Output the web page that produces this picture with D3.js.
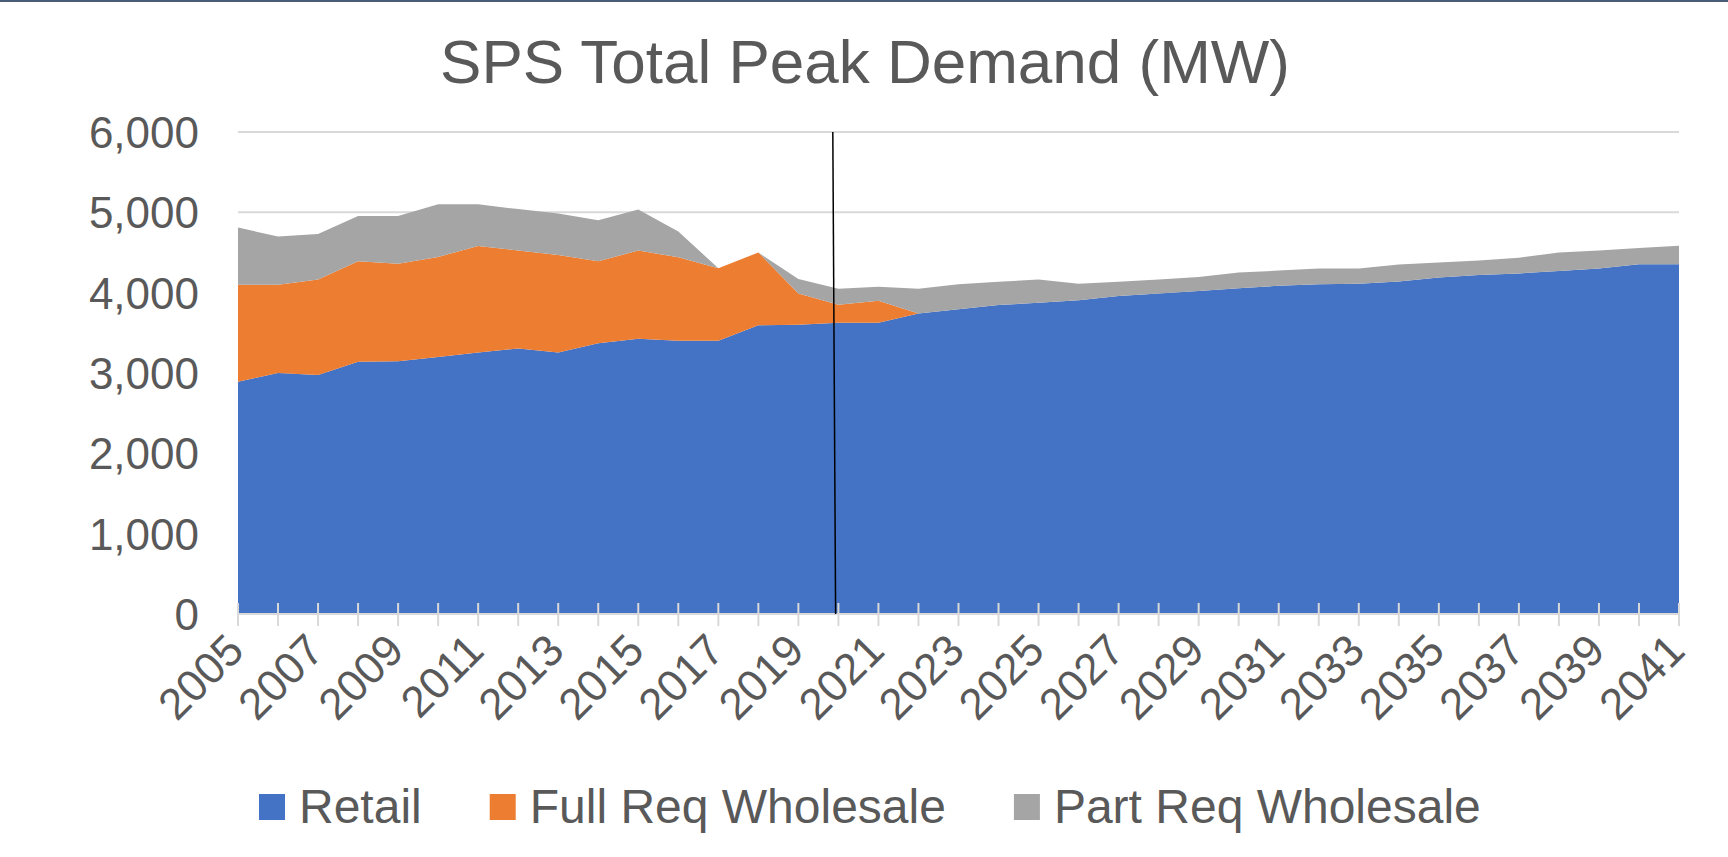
<!DOCTYPE html>
<html>
<head>
<meta charset="utf-8">
<script src="https://cdn.jsdelivr.net/npm/d3@7"></script>
<style>
  body { margin: 0; background: #ffffff; }
  text { font-family: "Liberation Sans", Arial, sans-serif; fill: #595959; }
</style>
</head>
<body>
<div id="chart"></div>
<script>

// years on the x axis
var years = d3.range(2005, 2042);

// peak demand by customer class (MW)
var retail = [2890, 3000, 2975, 3140, 3145, 3200, 3255, 3305, 3255, 3370, 3425, 3400, 3400,
    3595, 3600, 3625, 3625, 3740, 3795, 3845, 3875, 3905, 3960, 3990, 4020, 4055, 4085,
    4105, 4110, 4140, 4190, 4220, 4240, 4270, 4300, 4355, 4355];
var fullReq = [1210, 1100, 1190, 1250, 1215, 1245, 1325, 1220, 1215, 1020, 1100, 1040, 905,
    905, 390, 225, 275, 0, 0, 0, 0, 0, 0, 0, 0, 0, 0,
    0, 0, 0, 0, 0, 0, 0, 0, 0, 0];
var partReq = [710, 600, 565, 565, 595, 655, 520, 515, 515, 510, 510, 320, 0,
    0, 180, 200, 175, 310, 310, 290, 290, 205, 175, 175, 175, 195, 190,
    195, 190, 210, 185, 180, 195, 230, 225, 200, 230];

var seriesNames = ["Retail", "Full Req Wholesale", "Part Req Wholesale"];
var seriesColors = ["#4472c4", "#ed7d31", "#a5a5a5"];
var yTicks = [0, 1000, 2000, 3000, 4000, 5000, 6000];
var xTickYears = d3.range(2005, 2042, 2);

// the black divider between history and forecast (slightly slanted, as drawn)
var dividerTop = 2019.86, dividerBottom = 2019.93;

// set the dimensions and margins of the graph
var margin = { top: 132, right: 49, bottom: 243, left: 238 },
    width = 1728 - margin.left - margin.right,
    height = 857 - margin.top - margin.bottom;

var svg = d3.select("#chart")
    .append("svg")
    .attr("width", 1728)
    .attr("height", 857);

// thin border line on top of the slide
svg.append("rect")
    .attr("x", 0).attr("y", 0)
    .attr("width", 1728).attr("height", 2)
    .attr("fill", "#4a5c78");

// title
svg.append("text")
    .attr("x", 865)
    .attr("y", 83)
    .style("text-anchor", "middle")
    .style("font-size", "62px")
    .text("SPS Total Peak Demand (MW)");

var g = svg.append("g")
    .attr("transform", "translate(" + margin.left + "," + margin.top + ")");

var x = d3.scaleLinear()
    .domain([years[0], years[years.length - 1]])
    .range([0, width]);

var y = d3.scaleLinear()
    .domain([0, 6000])
    .range([height, 0]);

// gridlines
g.append("g")
    .selectAll("line")
    .data(yTicks.filter(function (d) { return d > 0; }))
    .enter()
    .append("line")
    .attr("x1", 0)
    .attr("x2", width)
    .attr("y1", function (d) { return y(d); })
    .attr("y2", function (d) { return y(d); })
    .attr("stroke", "#d9d9d9")
    .attr("stroke-width", 2);

// stack the three series
var table = years.map(function (yr, i) {
    return { year: yr, "Retail": retail[i], "Full Req Wholesale": fullReq[i], "Part Req Wholesale": partReq[i] };
});
var stacked = d3.stack().keys(seriesNames)(table);

var area = d3.area()
    .x(function (d) { return x(d.data.year); })
    .y0(function (d) { return y(d[0]); })
    .y1(function (d) { return y(d[1]); });

g.selectAll("path.layer")
    .data(stacked)
    .enter()
    .append("path")
    .attr("class", "layer")
    .attr("d", area)
    .attr("fill", function (d, i) { return seriesColors[i]; });

// x axis line and cross tick marks
g.append("line")
    .attr("x1", 0).attr("x2", width)
    .attr("y1", height).attr("y2", height)
    .attr("stroke", "#d9d9d9")
    .attr("stroke-width", 2);

g.append("g")
    .selectAll("line")
    .data(years)
    .enter()
    .append("line")
    .attr("x1", function (d) { return x(d); })
    .attr("x2", function (d) { return x(d); })
    .attr("y1", height - 11)
    .attr("y2", height + 12)
    .attr("stroke", "#d9d9d9")
    .attr("stroke-width", 2);

// x labels, rotated
g.append("g")
    .selectAll("text")
    .data(xTickYears)
    .enter()
    .append("text")
    .attr("transform", function (d) {
        return "translate(" + (x(d) + 8) + "," + (height + 39) + ")rotate(-45)";
    })
    .style("text-anchor", "end")
    .style("font-size", "44px")
    .text(function (d) { return d; });

// y labels
g.append("g")
    .selectAll("text")
    .data(yTicks)
    .enter()
    .append("text")
    .attr("x", -39)
    .attr("y", function (d) { return y(d); })
    .attr("dy", "0.36em")
    .style("text-anchor", "end")
    .style("font-size", "44px")
    .text(function (d) { return d3.format(",")(d); });

// divider line
g.append("line")
    .attr("x1", x(dividerTop))
    .attr("x2", x(dividerBottom))
    .attr("y1", y(6000))
    .attr("y2", y(0))
    .attr("stroke", "#000000")
    .attr("stroke-width", 1.5);

// legend
var legend = svg.append("g").attr("transform", "translate(259,0)");
var cursor = 0;
seriesNames.forEach(function (name, i) {
    var item = legend.append("g").attr("transform", "translate(" + cursor + ",0)");
    item.append("rect")
        .attr("x", 0).attr("y", 794)
        .attr("width", 26).attr("height", 26)
        .attr("fill", seriesColors[i]);
    var t = item.append("text")
        .attr("x", 40)
        .attr("y", 823)
        .style("font-size", "48px")
        .text(name);
    cursor += 40 + t.node().getComputedTextLength() + 68;
});

</script>
</body>
</html>
